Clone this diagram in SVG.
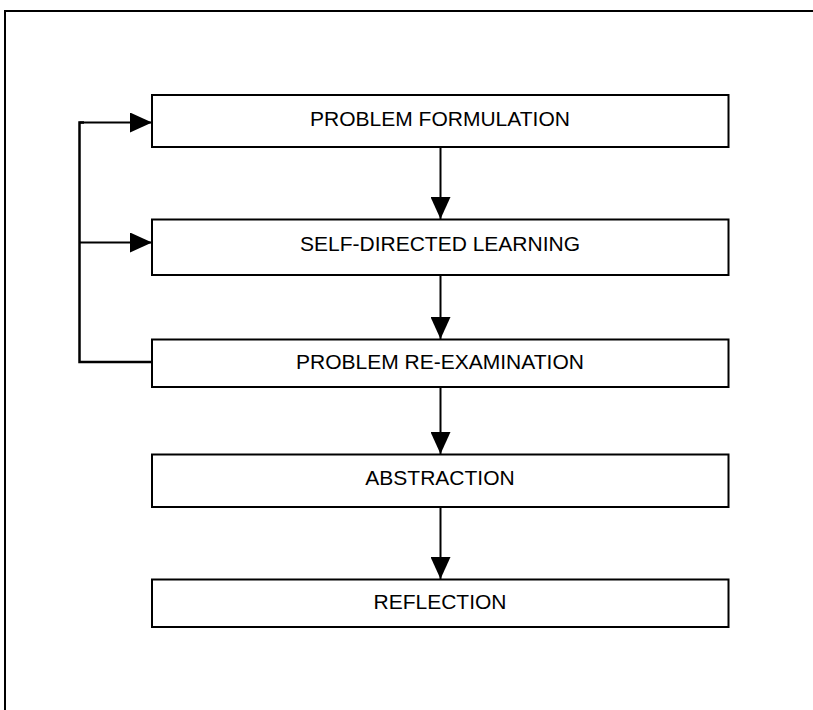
<svg xmlns="http://www.w3.org/2000/svg" width="813" height="710" viewBox="0 0 813 710">
  <style>
    .frame { fill: none; stroke: #000; stroke-width: 2; }
    .box { fill: #fff; stroke: #000; stroke-width: 2; }
    .label { font-family: "Liberation Sans", Arial, sans-serif; font-size: 21px; fill: #000; text-anchor: middle; }
    .link { fill: none; stroke: #000; stroke-width: 2; }
    .loop { fill: none; stroke: #000; stroke-width: 2.5; }
  </style>
  <defs>
    <marker id="head" viewBox="0 0 22 20" refX="22" refY="10" markerWidth="22" markerHeight="20" markerUnits="userSpaceOnUse" orient="auto">
      <path d="M0,0 L22,10 L0,20 Z" fill="#000"/>
    </marker>
  </defs>

  <rect class="frame" x="5" y="11" width="830" height="720"/>

  <g id="connectors">
    <line class="link" x1="440.5" y1="147" x2="440.5" y2="219" marker-end="url(#head)"/>
    <line class="link" x1="440.5" y1="275" x2="440.5" y2="339" marker-end="url(#head)"/>
    <line class="link" x1="440.5" y1="387" x2="440.5" y2="454" marker-end="url(#head)"/>
    <line class="link" x1="440.5" y1="507" x2="440.5" y2="579" marker-end="url(#head)"/>
    <polyline class="loop" points="152,362 79.5,362 79.5,122.5 84,122.5"/>
    <line class="link" x1="79.5" y1="122.5" x2="152" y2="122.5" marker-end="url(#head)"/>
    <line class="link" x1="79.5" y1="242.5" x2="152" y2="242.5" marker-end="url(#head)"/>
  </g>

  <g id="problem-formulation">
    <rect class="box" x="152" y="95" width="576.5" height="52"/>
    <text class="label" x="440" y="126">PROBLEM FORMULATION</text>
  </g>
  <g id="self-directed-learning">
    <rect class="box" x="152" y="219.5" width="576.5" height="55.5"/>
    <text class="label" x="440" y="251">SELF-DIRECTED LEARNING</text>
  </g>
  <g id="problem-re-examination">
    <rect class="box" x="152" y="339.5" width="576.5" height="47.5"/>
    <text class="label" x="440" y="369">PROBLEM RE-EXAMINATION</text>
  </g>
  <g id="abstraction">
    <rect class="box" x="152" y="454.5" width="576.5" height="52.5"/>
    <text class="label" x="440" y="485">ABSTRACTION</text>
  </g>
  <g id="reflection">
    <rect class="box" x="152" y="579.5" width="576.5" height="47.5"/>
    <text class="label" x="440" y="609">REFLECTION</text>
  </g>
</svg>
